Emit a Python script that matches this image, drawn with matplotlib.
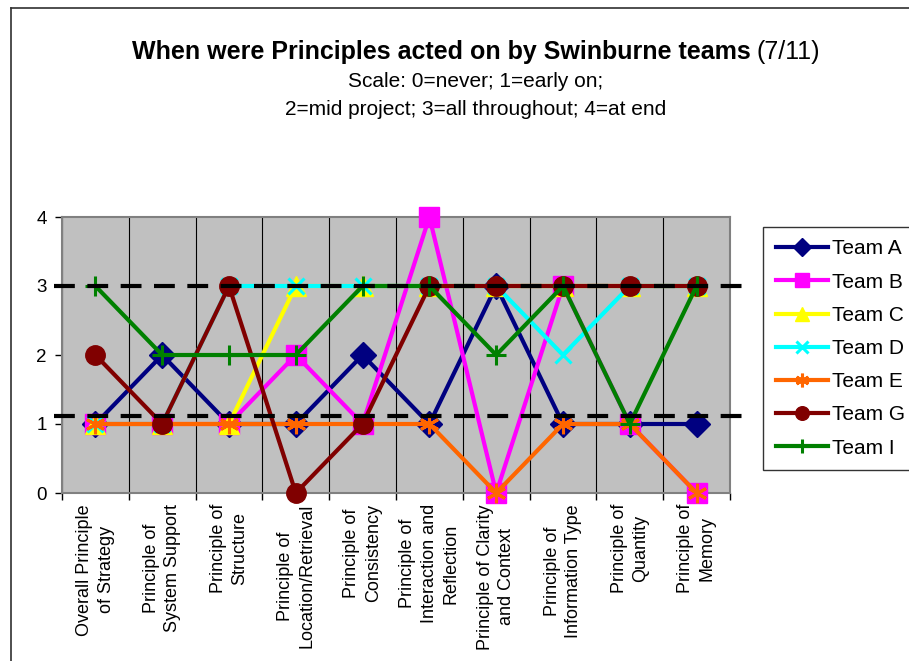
import matplotlib
matplotlib.use('Agg')
import matplotlib.pyplot as plt
from matplotlib.lines import Line2D
import numpy as np

plt.rcParams['font.family'] = ['Liberation Sans', 'DejaVu Sans']

categories = ['Overall Principle\nof Strategy', 'Principle of\nSystem Support',
              'Principle of\nStructure', 'Principle of\nLocation/Retrieval',
              'Principle of\nConsistency', 'Principle of\nInteraction and\nReflection',
              'Principle of Clarity\nand Context', 'Principle of\nInformation Type',
              'Principle of\nQuantity', 'Principle of\nMemory']

team_a = [1, 2, 1, 1, 2, 1, 3, 1, 1, 1]
team_b = [1, 1, 1, 2, 1, 4, 0, 3, 1, 0]
team_c = [1, 1, 1, 3, 3, 3, 3, 3, 3, 3]
team_d = [1, 1, 3, 3, 3, 3, 3, 2, 3, 3]
team_e = [1, 1, 1, 1, 1, 1, 0, 1, 1, 0]
team_g = [2, 1, 3, 0, 1, 3, 3, 3, 3, 3]
team_i = [3, 2, 2, 2, 3, 3, 2, 3, 1, 3]

# reference levels drawn as heavy dashed lines
ref_levels = [3.0, 1.12]

series = [
    ('Team A', team_a, '#000080', 'D', 13, 1),
    ('Team B', team_b, '#FF00FF', 's', 14, 1),
    ('Team C', team_c, '#FFFF00', '^', 14, 1),
    ('Team D', team_d, '#00FFFF', 'x', 12, 2.2),
    ('Team E', team_e, '#FF6600', (6, 2, 0), 14, 2.2),
    ('Team G', team_g, '#800000', 'o', 14, 1),
    ('Team I', team_i, '#008000', '+', 14, 2.2),
]

W, H = 909, 661
fig = plt.figure(figsize=(W / 100, H / 100), dpi=100)
ax = fig.add_axes([62 / W, 1 - 493 / H, (730 - 62) / W, (493 - 217) / H])
ax.set_facecolor('#C0C0C0')

x = np.arange(len(categories))
for name, vals, col, mk, ms, mew in series:
    ax.plot(x, vals, color=col, lw=3, marker=mk, markersize=ms,
            markerfacecolor=col, markeredgecolor=col, markeredgewidth=mew,
            label=name, clip_on=False, zorder=3)

for lv in ref_levels:
    ax.plot([-0.62, 9.68], [lv, lv], color='black', lw=3,
            dashes=(5, 3), clip_on=False, zorder=5)

ax.set_xlim(-0.5, 9.5)
ax.set_ylim(0, 4)
ax.set_yticks([0, 1, 2, 3, 4])
ax.tick_params(axis='y', labelsize=13.5, length=5, width=1, pad=6)

ax.set_xticks(np.arange(-0.5, 10, 1))
ax.set_xticklabels([])
ax.tick_params(axis='x', which='major', length=5, width=1)
ax.set_xticks(x, minor=True)
ax.set_xticklabels(categories, minor=True, rotation=90, fontsize=13,
                   ha='center', va='top', multialignment='center', linespacing=1.35)
ax.tick_params(axis='x', which='minor', length=0, pad=8)
ax.grid(axis='x', which='major', color='black', lw=0.8)
ax.set_axisbelow(True)
for s in ax.spines.values():
    s.set_color('#808080')
    s.set_linewidth(1.5)

leg = fig.legend(loc='upper left', bbox_to_anchor=(763 / W, 1 - 227 / H),
                 fontsize=15, frameon=True, fancybox=False, edgecolor='black',
                 handlelength=2.5, handletextpad=0.2, labelspacing=0.68,
                 borderpad=0.6, markerscale=0.7, borderaxespad=0)
leg.get_frame().set_linewidth(1)

# title, bold part plus regular part
fig.text(751 / W, 1 - 59 / H, 'When were Principles acted on by Swinburne teams',
         fontsize=18, fontweight='bold', ha='right', va='baseline')
fig.text(757 / W, 1 - 59 / H, '(7/11)', fontsize=18, ha='left', va='baseline')
fig.text(476 / W, 1 - 87 / H, 'Scale: 0=never; 1=early on;', fontsize=15,
         ha='center', va='baseline')
fig.text(476 / W, 1 - 115 / H, '2=mid project; 3=all throughout; 4=at end',
         fontsize=15, ha='center', va='baseline')

# chart border
fig.add_artist(Line2D([11 / W, 1], [1 - 8 / H, 1 - 8 / H], color='#303030', lw=1.2))
fig.add_artist(Line2D([11 / W, 11 / W], [0, 1 - 8 / H], color='#303030', lw=1.2))

fig.savefig('out.png', dpi=100)
